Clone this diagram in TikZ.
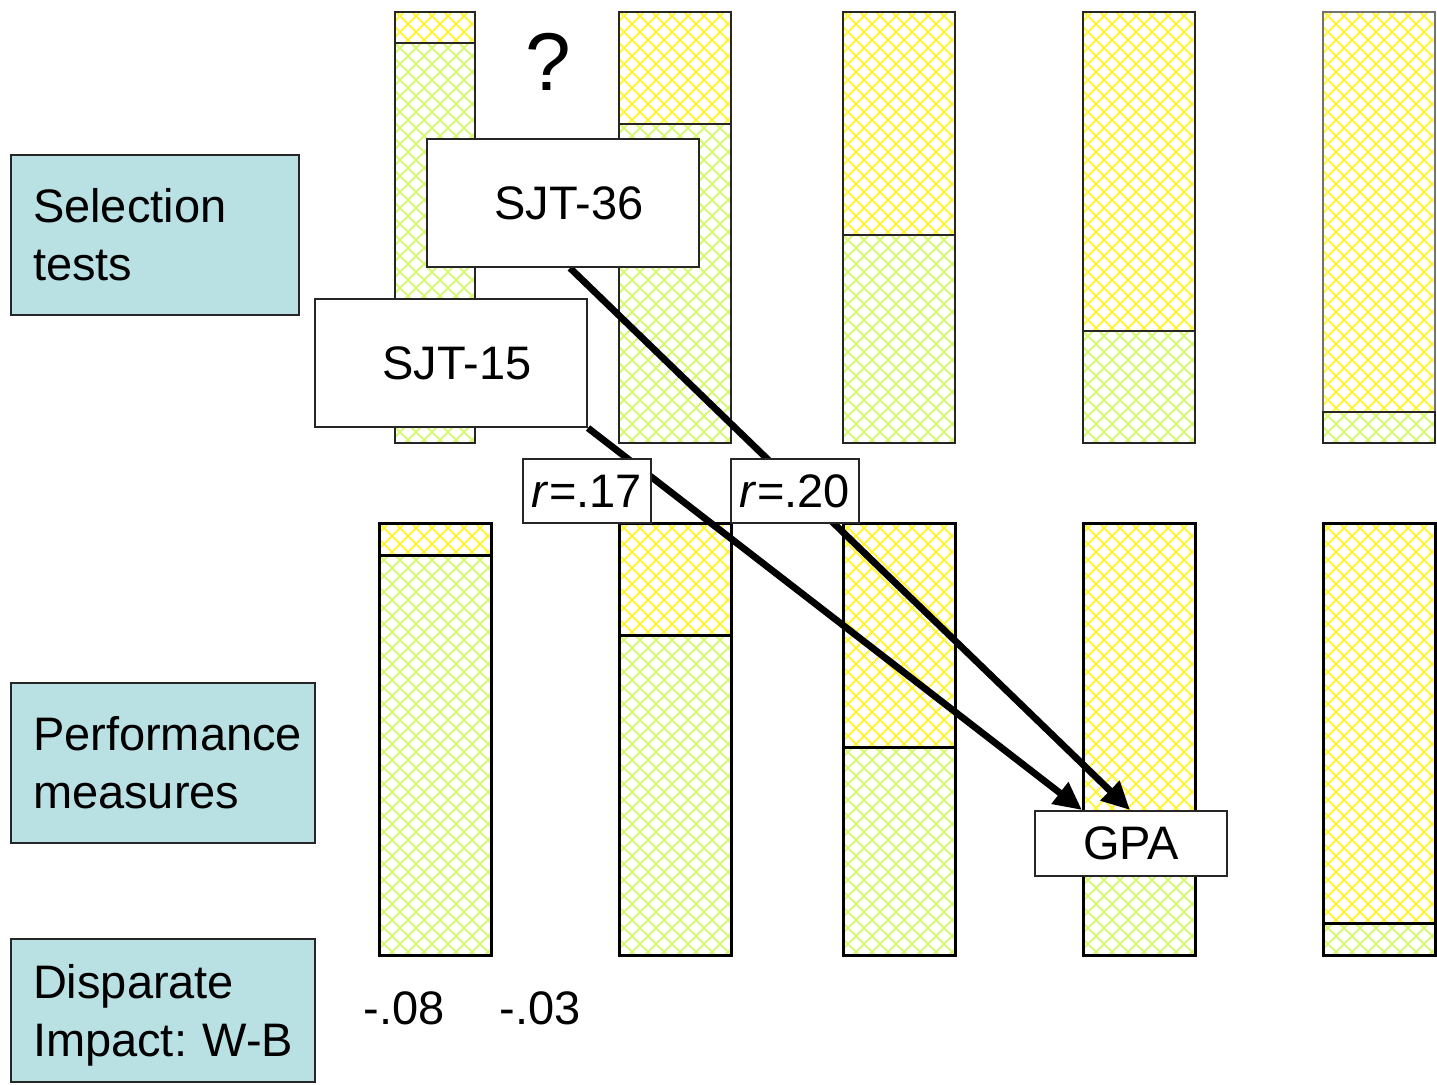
\documentclass[tikz,border=0pt]{standalone}
\usepackage{fontspec}
\setmainfont{Liberation Sans}
\usetikzlibrary{arrows.meta}
\frenchspacing

\definecolor{hatchyellow}{RGB}{255,245,60}
\definecolor{hatchgreen}{RGB}{215,248,118}
\definecolor{labelfill}{RGB}{185,224,227}

\pgfdeclarelayer{bars}
\pgfdeclarelayer{links}
\pgfsetlayers{bars,links,main}

% cross-hatched fill of the rectangle (#1,#2)-(#3,#4) in colour #5
\newcommand\hatchfill[5]{%
  \begin{scope}
    \clip (#1,#2) rectangle (#3,#4);
    \pgfmathtruncatemacro\hA{16*floor((#1-#4)/16)}%
    \pgfmathtruncatemacro\hAn{\hA+16}%
    \pgfmathtruncatemacro\hAe{#3-#2+16}%
    \foreach \c in {\hA,\hAn,...,\hAe}
      \draw[#5,hatchline] (\c+#2,#2) -- (\c+#4,#4);
    \pgfmathtruncatemacro\hB{16*floor((#1+#2)/16)}%
    \pgfmathtruncatemacro\hBn{\hB+16}%
    \pgfmathtruncatemacro\hBe{#3+#4+16}%
    \foreach \c in {\hB,\hBn,...,\hBe}
      \draw[#5,hatchline] (\c-#2,#2) -- (\c-#4,#4);
  \end{scope}}

% bar from x=#2 to #3, top #4, split at #5, bottom #6
\newcommand\splitbar[6][]{%
  \hatchfill{#2}{#4}{#3}{#5}{hatchyellow}
  \hatchfill{#2}{#5}{#3}{#6}{hatchgreen}
  \draw[#1] (#2,#4) rectangle (#3,#6) (#2,#5) -- (#3,#5);}

\tikzset{
  hatchline/.style={line width=1pt},
  topbar/.style={draw=black!85, line width=1pt},
  botbar/.style={draw=black, line width=1.5pt},
  rowlabel/.style={draw=black!85, line width=1pt, fill=labelfill, align=left,
    inner xsep=11pt, inner ysep=0pt, minimum height=#1,
    font=\fontsize{23.5}{29}\selectfont},
  whitebox/.style={draw=black!85, line width=1pt, fill=white, inner sep=0pt,
    font=\fontsize{23.5}{29}\selectfont},
  numtext/.style={font=\fontsize{23.5}{29}\selectfont},
  link/.style={line width=3.4pt, -{Triangle[length=14pt,width=13pt]}}
}

\begin{document}
\begin{tikzpicture}[x=0.5pt, y=-0.5pt]
\useasboundingbox (0,0) rectangle (1437,1084);

% row labels
\node[rowlabel=80pt, text width=122pt] (sel) at (155,235) {Selection\\tests};
\node[rowlabel=80pt, text width=130pt] (perf) at (163,763) {\mbox{Performance}\\measures};
\node[rowlabel=71.5pt, text width=130pt] (dis) at (163,1010.5) {\rule{0pt}{22pt}Disparate\\\mbox{Impact: W-B}};

% test and criterion boxes
\node[whitebox, minimum width=136pt, minimum height=64pt] (sjt36) at (563,203) {\hspace{6pt}SJT-36};
\node[whitebox, minimum width=136pt, minimum height=64pt] (sjt15) at (451,363) {\hspace{6pt}SJT-15};
\node[whitebox, minimum width=96pt, minimum height=32.5pt] (gpa) at (1131,843.5) {GPA};
\node[whitebox, minimum width=64pt, minimum height=32pt] (r17) at (587,491) {\textit{r}=.17};
\node[whitebox, minimum width=64pt, minimum height=32pt] (r20) at (795,491) {\textit{r}=.20};

% free text
\node[font=\fontsize{41}{48}\selectfont] (qmark) at (548,62) {?};
\node[numtext] (d08) at (404,1008) {-.08};
\node[numtext] (d03) at (540,1008) {-.03};

% validity links
\begin{pgfonlayer}{links}
  \draw[link] ([xshift=3.5pt]sjt36.south) -- ([xshift=-0.5pt]gpa.north);
  \draw[link] (sjt15.south east) -- ([xshift=-24.5pt]gpa.north);
\end{pgfonlayer}

% proportion bars
\begin{pgfonlayer}{bars}
  % selection tests row
  \splitbar[topbar]{395}{475}{12}{43}{443}
  \splitbar[topbar]{619}{731}{12}{124}{443}
  \splitbar[topbar]{843}{955}{12}{235}{443}
  \splitbar[topbar]{1083}{1195}{12}{331}{443}
  \hatchfill{1323}{12}{1435}{412}{hatchyellow}
  \hatchfill{1323}{412}{1435}{443}{hatchgreen}
  \draw[draw=black!55, line width=1pt] (1323,412) -- (1323,12) -- (1435,12) -- (1435,412);
  \draw[topbar] (1323,412) rectangle (1435,443);
  % performance measures row
  \splitbar[botbar]{379}{491}{523}{555}{955}
  \splitbar[botbar]{619}{731}{523}{635}{955}
  \splitbar[botbar]{843}{955}{523}{747}{955}
  \splitbar[botbar]{1083}{1195}{523}{850}{955}
  \splitbar[botbar]{1323}{1435}{523}{923}{955}
\end{pgfonlayer}
\end{tikzpicture}
\end{document}
